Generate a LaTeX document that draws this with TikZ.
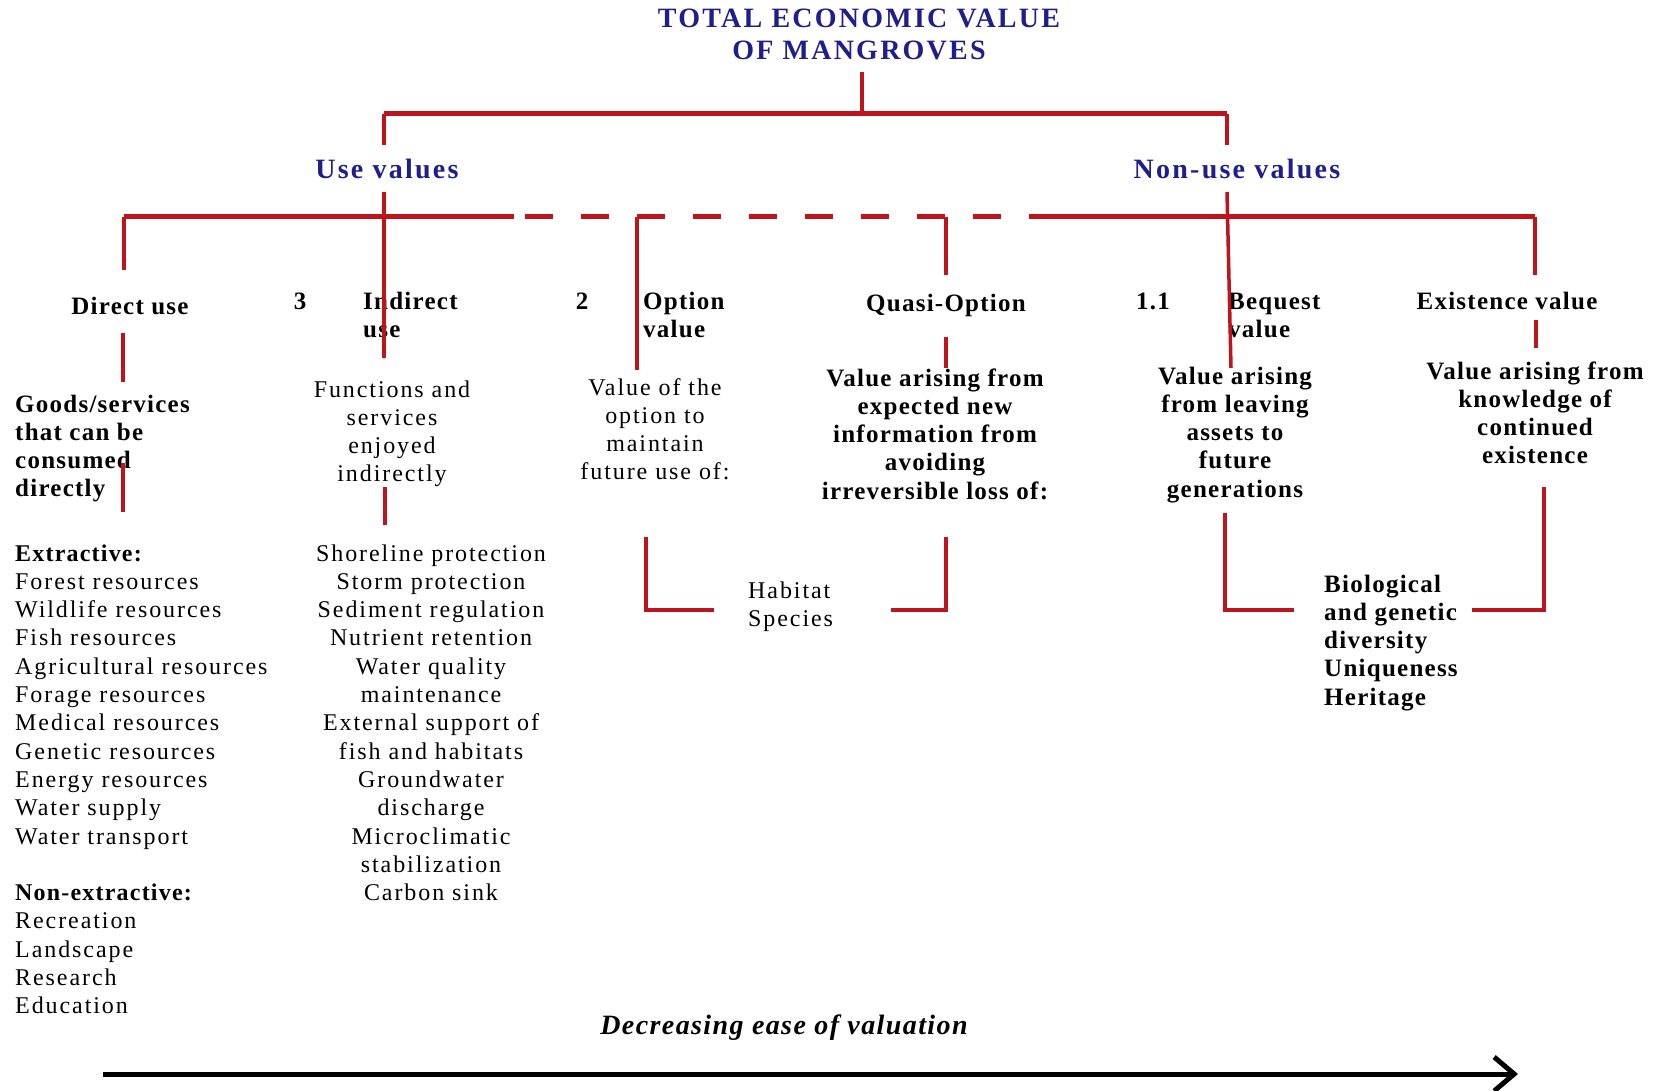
\documentclass[tikz,border=0pt]{standalone}
\usepackage{fontspec}
\setmainfont{Liberation Serif}
\newfontfamily\bodyf[LetterSpace=8]{Liberation Serif}
\newfontfamily\boldf[LetterSpace=5]{Liberation Serif}
\newfontfamily\titlef[LetterSpace=8]{Liberation Serif}
\usetikzlibrary{arrows.meta}
\definecolor{tevblue}{RGB}{30,30,140}
\definecolor{tevred}{RGB}{190,20,30}
\begin{document}
\begin{tikzpicture}[x=1pt,y=-1pt,
  bar/.style={draw=tevred,line width=5pt},
  stem/.style={draw=tevred,line width=3.5pt},
  head/.style={font=\titlef\bfseries\fontsize{28}{30}\selectfont,text=tevblue,inner sep=0,anchor=base},
  lbl/.style={font=\boldf\bfseries\fontsize{25}{28.3}\selectfont,inner sep=0},
  bodytxt/.style={font=\bodyf\fontsize{24}{28.3}\selectfont,inner sep=0}]
\useasboundingbox (0,0) rectangle (1662,1091);
\fill[white] (0,0) rectangle (1662,1091);
% titles
\node[head] (tev) at (859,28) {TOTAL ECONOMIC VALUE};
\node[head] (mang) at (859,60) {OF MANGROVES};
\node[head] (use) at (387,179) {Use values};
\node[head] (nonuse) at (1237,179) {Non-use values};
% headers
\node[lbl,anchor=base] (direct) at (130,315) {Direct use};
\node[lbl,anchor=base] (n3) at (300,309) {3};
\node[lbl,anchor=north west,align=left] (indirect) at (363,289) {\strut Indirect\\use};
\node[lbl,anchor=base] (n2) at (582,309) {2};
\node[lbl,anchor=north west,align=left] (option) at (643,289) {\strut Option\\value};
\node[lbl,anchor=base] (quasi) at (946,311) {Quasi-Option};
\node[lbl,anchor=base] (n11) at (1153,309) {1.1};
\node[lbl,anchor=north west,align=left] (bequest) at (1228,289) {\strut Bequest\\value};
\node[lbl,anchor=base] (exist) at (1507,309) {Existence value};
% descriptions
\node[lbl,anchor=north west,align=left] (goods) at (15,392) {\strut Goods/services\\that can be\\consumed\\directly};
\node[bodytxt,anchor=north,align=center] (functions) at (392,377) {\strut Functions and\\services\\enjoyed\\indirectly};
\node[bodytxt,anchor=north,align=center] (optdesc) at (655,375) {\strut Value of the\\option to\\maintain\\future use of:};
\node[lbl,anchor=north,align=center] (quasidesc) at (935,366) {\strut Value arising from\\expected new\\information from\\avoiding\\irreversible loss of:};
\node[lbl,anchor=north,align=center] (bequestdesc) at (1235,364) {\strut Value arising\\from leaving\\assets to\\future\\generations};
\node[lbl,anchor=north,align=center] (existdesc) at (1535,359) {\strut Value arising from\\knowledge of\\continued\\existence};
% lists
\node[bodytxt,anchor=north west,align=left] (directlist) at (15,541) {\strut{\boldf\bfseries Extractive:}\\Forest resources\\Wildlife resources\\Fish resources\\Agricultural resources\\Forage resources\\Medical resources\\Genetic resources\\Energy resources\\Water supply\\Water transport\\[28.3pt]{\boldf\bfseries Non-extractive:}\\Recreation\\Landscape\\Research\\Education};
\node[bodytxt,anchor=north,align=center] (indlist) at (431,541) {\strut Shoreline protection\\Storm protection\\Sediment regulation\\Nutrient retention\\Water quality\\maintenance\\External support of\\fish and habitats\\Groundwater\\discharge\\Microclimatic\\stabilization\\Carbon sink};
\node[bodytxt,anchor=north west,align=left] (habitat) at (748,578) {\strut Habitat\\Species};
\node[lbl,anchor=north west,align=left] (bio) at (1324,572) {\strut Biological\\and genetic\\diversity\\Uniqueness\\Heritage};
\node[font=\boldf\bfseries\itshape\fontsize{28}{30}\selectfont,inner sep=0,anchor=base] (ease) at (784,1034) {Decreasing ease of valuation};
% coordinates
\coordinate (tstemA) at (862,72); \coordinate (tstemB) at (862,114);
\coordinate (barL) at (384,114); \coordinate (barR) at (1227,114);
\coordinate (useB) at (384,145); \coordinate (nuB) at (1227,145);
\coordinate (b2L) at (124,217); \coordinate (b2dA) at (514,217);
\coordinate (b2dB) at (1034,217); \coordinate (b2R) at (1535,217);
\coordinate (dirB) at (124,270); \coordinate (dirC) at (123,333); \coordinate (dirD) at (123,382);
\coordinate (dirE) at (123,463); \coordinate (dirF) at (123,512);
\coordinate (indA) at (384,192); \coordinate (indB) at (384,358);
\coordinate (indC) at (385,487); \coordinate (indD) at (385,525);
\coordinate (optA) at (637,217); \coordinate (optB) at (637,370);
\coordinate (quaA) at (946,217); \coordinate (quaB) at (946,275);
\coordinate (quaC) at (946,337); \coordinate (quaD) at (946,368);
\coordinate (quaE) at (946,537); \coordinate (quaF) at (946,610); \coordinate (quaG) at (891,610);
\coordinate (beqA) at (1227,192); \coordinate (beqB) at (1231,368);
\coordinate (beqC) at (1225,513); \coordinate (beqD) at (1225,610); \coordinate (beqE) at (1294,610);
\coordinate (exA) at (1535,217); \coordinate (exB) at (1535,275);
\coordinate (exC) at (1536,320); \coordinate (exD) at (1536,348);
\coordinate (exE) at (1544,487); \coordinate (exF) at (1544,610); \coordinate (exG) at (1472,610);
\coordinate (obA) at (646,537); \coordinate (obB) at (646,610); \coordinate (obC) at (714,610);
\coordinate (arA) at (103,1074); \coordinate (arB) at (1518,1074);
% connectors
\draw[stem] (tstemA) -- (tstemB);
\draw[bar] (barL) -- (barR);
\draw[stem] (barL) -- (useB);
\draw[stem] (barR) -- (nuB);
\draw[bar] (b2L) -- (b2dA);
\draw[bar,dash pattern=on 28pt off 28pt,dash phase=45pt] (b2dA) -- (b2dB);
\draw[bar] (b2dB) -- (b2R);
\draw[stem] (b2L) -- (dirB);
\draw[stem] (dirC) -- (dirD);
\draw[stem] (dirE) -- (dirF);
\draw[stem] (indA) -- (indB);
\draw[stem] (indC) -- (indD);
\draw[stem] (optA) -- (optB);
\draw[stem] (quaA) -- (quaB);
\draw[stem] (quaC) -- (quaD);
\draw[stem] (quaE) -- (quaF) -- (quaG);
\draw[stem] (beqA) -- (beqB);
\draw[stem] (beqC) -- (beqD) -- (beqE);
\draw[stem] (exA) -- (exB);
\draw[stem] (exC) -- (exD);
\draw[stem] (exE) -- (exF) -- (exG);
\draw[stem] (obA) -- (obB) -- (obC);
\draw[line width=5pt,-{Straight Barb[length=20pt,width=34pt]}] (arA) -- (arB);
\end{tikzpicture}
\end{document}
